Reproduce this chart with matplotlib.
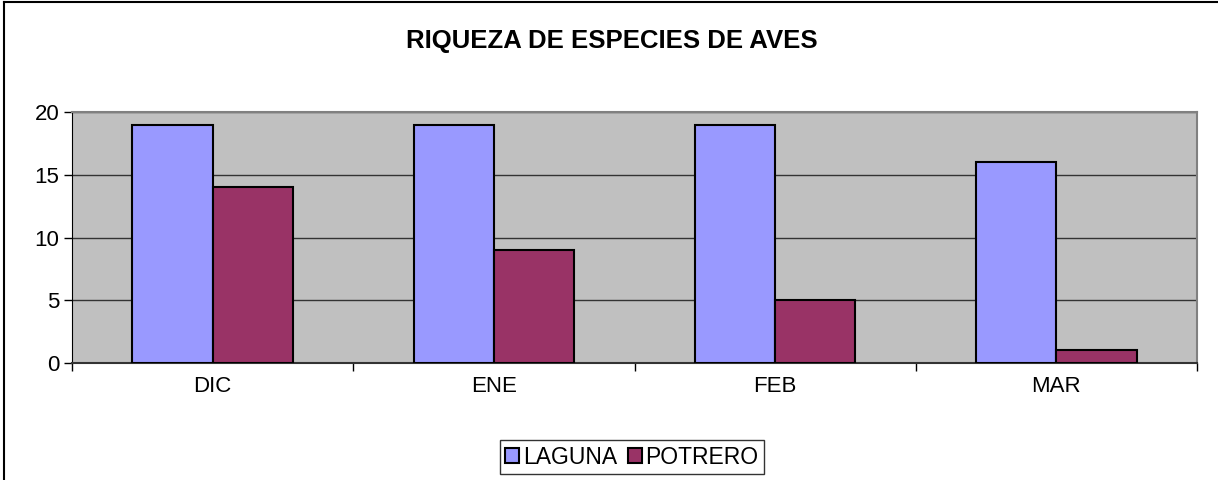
import matplotlib.pyplot as plt
import numpy as np

plt.rcParams['font.family'] = ['Liberation Sans', 'DejaVu Sans']

meses = ['DIC', 'ENE', 'FEB', 'MAR']
laguna = [19, 19, 19, 16]
potrero = [14, 9, 5, 1]

fig = plt.figure(figsize=(12.18, 4.8), dpi=100)
ax = fig.add_axes([72 / 1218, 117 / 480, 1125 / 1218, 251 / 480])
ax.set_facecolor('#C0C0C0')

x = np.arange(len(meses))
w = 1 / 3.5
ax.bar(x - w, laguna, w, align='edge', color='#9999FF', edgecolor='black',
       linewidth=1.5, label='LAGUNA', zorder=3)
ax.bar(x, potrero, w, align='edge', color='#993366', edgecolor='black',
       linewidth=1.5, label='POTRERO', zorder=3)

ax.set_xlim(-0.5, len(meses) - 0.5)
ax.set_ylim(0, 20)
ax.set_yticks([0, 5, 10, 15, 20])
ax.yaxis.grid(True, color='#333333', linewidth=1, zorder=1)

ax.set_xticks(x)
ax.set_xticklabels(meses)
ax.set_xticks(np.arange(-0.5, len(meses)), minor=True)
ax.tick_params(axis='x', which='major', length=0, pad=9, labelsize=16)
ax.tick_params(axis='x', which='minor', length=6, width=1, direction='out', color='black')
ax.tick_params(axis='y', length=6, width=1, direction='out', pad=3, labelsize=16)

for s in ['top', 'right']:
    ax.spines[s].set_color('#808080')
    ax.spines[s].set_linewidth(1.5)
ax.spines['left'].set_color('black')
ax.spines['bottom'].set_color('#333333')
ax.spines['bottom'].set_linewidth(1.5)

fig.text(612 / 1218, 1 - 41 / 480, 'RIQUEZA DE ESPECIES DE AVES', ha='center', va='center',
         fontsize=18.5, fontweight='bold')

leg = fig.legend(loc='center', bbox_to_anchor=(632 / 1218, 1 - 457 / 480), ncol=2,
                 frameon=True, fancybox=False, edgecolor='black', fontsize=16.5,
                 handlelength=0.6, handleheight=0.6, handletextpad=0.15,
                 columnspacing=0.5, borderpad=0.25, borderaxespad=0)
leg.get_frame().set_linewidth(1)

# borde del grafico (solo se ve arriba e izquierda)
fig.add_artist(plt.Line2D([3.5 / 1218, 3.5 / 1218], [0, 1 - 1.5 / 480], color='black', linewidth=1.5))
fig.add_artist(plt.Line2D([3.5 / 1218, 1], [1 - 1.5 / 480, 1 - 1.5 / 480], color='black', linewidth=1.5))

fig.savefig('out.png', dpi=100)
